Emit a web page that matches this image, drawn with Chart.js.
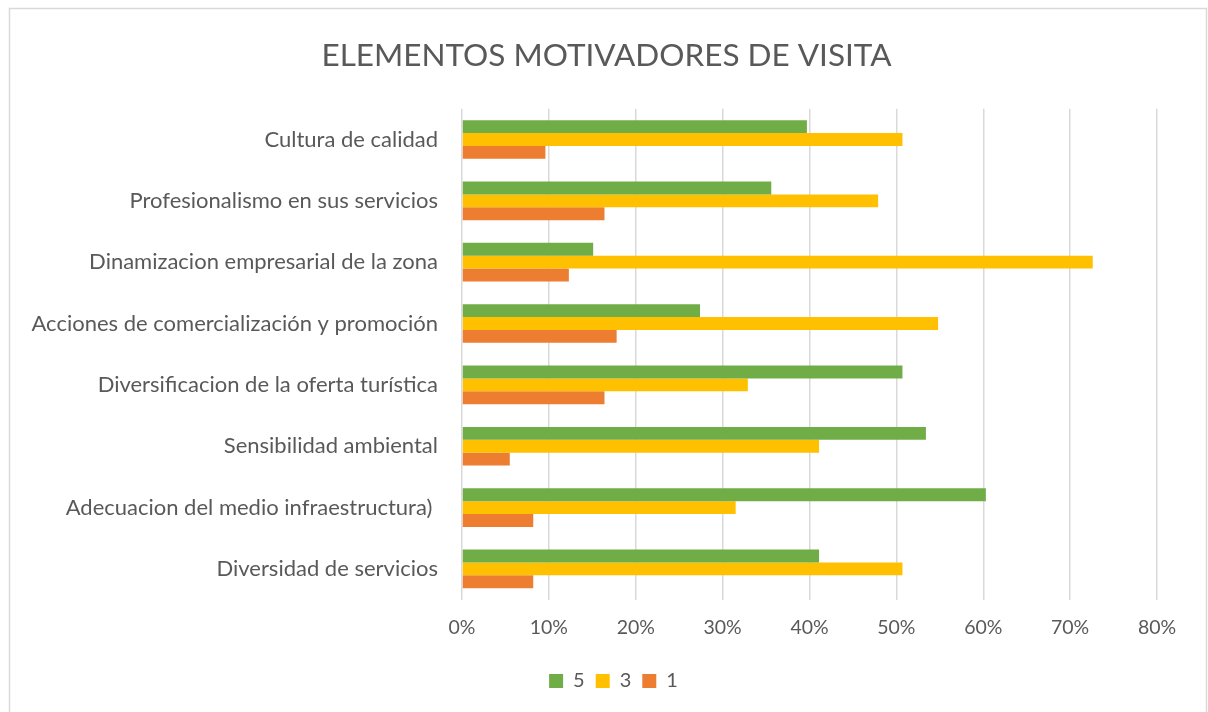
<!DOCTYPE html>
<html>
<head>
<meta charset="utf-8">
<script src="https://cdn.jsdelivr.net/npm/chart.js@4.4.0/dist/chart.umd.min.js"></script>
<style>
  html, body { margin: 0; padding: 0; background: #ffffff; }
  #wrap { width: 1208px; height: 712px; position: relative; }
</style>
</head>
<body>
<div id="wrap"><canvas id="barChart" width="1208" height="712"></canvas></div>
<script>
// Datos (porcentajes)
const categorias = [
  'Cultura de calidad',
  'Profesionalismo en sus servicios',
  'Dinamizacion empresarial de la zona',
  'Acciones de comercialización y promoción',
  'Diversificacion de la oferta turística',
  'Sensibilidad ambiental',
  'Adecuacion del medio infraestructura) ',
  'Diversidad de servicios'
];
const serie5 = [39.7, 35.6, 15.1, 27.4, 50.7, 53.4, 60.3, 41.1];
const serie3 = [50.7, 47.9, 72.6, 54.8, 32.9, 41.1, 31.5, 50.7];
const serie1 = [9.6, 16.4, 12.3, 17.8, 16.4, 5.5, 8.2, 8.2];
const ticksX = [0, 10, 20, 30, 40, 50, 60, 70, 80];

const gris = '#595959';
const fuente = 'Lato, "Liberation Sans", sans-serif';

// Borde del área del gráfico
const borde = {
  id: 'borde',
  beforeDraw(chart) {
    const c = chart.ctx;
    c.save();
    c.strokeStyle = '#d9d9d9';
    c.lineWidth = 1.5;
    c.strokeRect(9.5, 8.5, 1197, 720);
    c.restore();
  }
};

// Centrar título y leyenda sobre todo el lienzo (como en Excel)
const centrado = {
  id: 'centrado',
  afterLayout(chart) {
    const t = chart.titleBlock;
    if (t) { t.left += 23; t.right += 23; }
    const l = chart.legend;
    if (l) { l.left += 30; l.right += 30; l.top += 5; l.bottom += 5; }
  }
};

const ctx = document.getElementById('barChart').getContext('2d');
new Chart(ctx, {
  type: 'bar',
  data: {
    labels: categorias,
    datasets: [
      { label: '5', data: serie5, backgroundColor: '#70AD47' },
      { label: '3', data: serie3, backgroundColor: '#FFC000' },
      { label: '1', data: serie1, backgroundColor: '#ED7D31' }
    ]
  },
  options: {
    indexAxis: 'y',
    responsive: false,
    animation: false,
    categoryPercentage: 0.63,
    barPercentage: 1.0,
    layout: { padding: { left: 10, right: 51, top: 0, bottom: 16 } },
    plugins: {
      title: {
        display: true,
        text: 'ELEMENTOS MOTIVADORES DE VISITA',
        color: gris,
        font: { family: fuente, size: 31.5, weight: 'normal' },
        padding: { top: 37, bottom: 34 }
      },
      legend: {
        position: 'bottom',
        labels: {
          color: gris,
          font: { family: fuente, size: 20 },
          boxWidth: 14,
          boxHeight: 14,
          padding: 11
        }
      },
      tooltip: { enabled: false }
    },
    scales: {
      x: {
        min: 0,
        max: 80,
        afterBuildTicks(scale) {
          scale.ticks = ticksX.map(v => ({ value: v }));
        },
        ticks: {
          color: gris,
          font: { family: fuente, size: 19.5 },
          padding: 16,
          callback: v => v + '%'
        },
        grid: { color: '#d9d9d9', lineWidth: 1.5, tickLength: 0 },
        border: { display: false }
      },
      y: {
        afterFit(scale) { scale.width = 452; },
        ticks: {
          color: gris,
          font: { family: fuente, size: 22 },
          padding: 16
        },
        grid: { display: false },
        border: { display: false }
      }
    }
  },
  plugins: [borde, centrado]
});
</script>
</body>
</html>
